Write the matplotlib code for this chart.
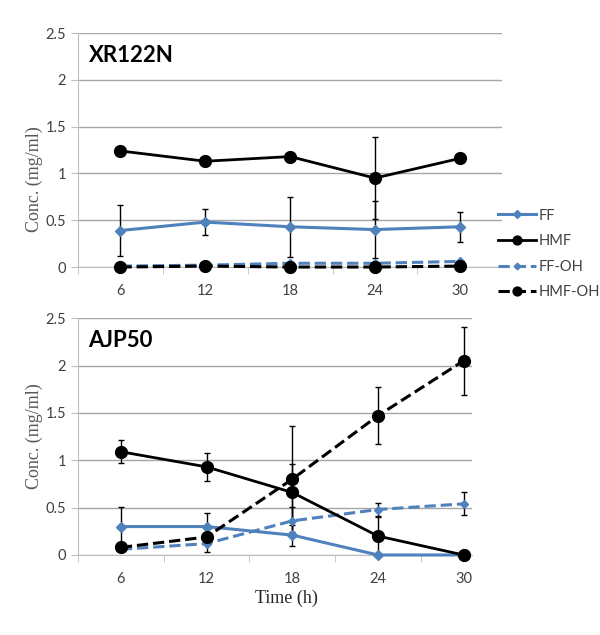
import matplotlib.pyplot as plt
import numpy as np

times = ['6', '12', '18', '24', '30']

# XR122N (top panel)
xr_ff = [0.39, 0.48, 0.43, 0.40, 0.43]
xr_ff_err = [0.27, 0.14, 0.32, 0.30, 0.16]
xr_hmf = [1.24, 1.13, 1.18, 0.95, 1.16]
xr_hmf_err = [0.0, 0.0, 0.0, 0.44, 0.0]
xr_ffoh = [0.01, 0.02, 0.04, 0.04, 0.06]
xr_ffoh_err = [0.0, 0.0, 0.0, 0.0, 0.0]
xr_hmfoh = [0.0, 0.01, 0.0, 0.0, 0.01]
xr_hmfoh_err = [0.0, 0.0, 0.0, 0.0, 0.0]

# AJP50 (bottom panel)
ajp_ff = [0.30, 0.30, 0.21, 0.0, 0.0]
ajp_ff_err = [0.21, 0.14, 0.11, 0.0, 0.0]
ajp_hmf = [1.09, 0.93, 0.66, 0.20, 0.0]
ajp_hmf_err = [0.12, 0.15, 0.30, 0.20, 0.0]
ajp_ffoh = [0.06, 0.12, 0.36, 0.48, 0.54]
ajp_ffoh_err = [0.02, 0.09, 0.15, 0.07, 0.12]
ajp_hmfoh = [0.08, 0.19, 0.80, 1.47, 2.05]
ajp_hmfoh_err = [0.0, 0.0, 0.56, 0.30, 0.36]

blue = '#4F81BD'
x = np.arange(1, len(times) + 1)

fig = plt.figure(figsize=(6, 6.35), dpi=100)
ax1 = fig.add_axes([0.13, 0.5795, 0.707, 0.3685])
ax2 = fig.add_axes([0.13, 0.126, 0.657, 0.373])


def draw(ax, ff, ffe, hmf, hmfe, ffoh, ffohe, hmfoh, hmfohe, title, xmax):
    # error bars first (black), then lines + markers
    for vals, errs in [(ff, ffe), (hmf, hmfe), (ffoh, ffohe), (hmfoh, hmfohe)]:
        ax.errorbar(x, vals, yerr=errs, fmt='none', ecolor='black',
                    elinewidth=1, capsize=2.5, zorder=2)
    ax.plot(x, ff, color=blue, lw=2.2, marker='D', ms=5.5, label='FF', zorder=3)
    ax.plot(x, hmf, color='black', lw=2, marker='o', ms=8.5, label='HMF',
            zorder=4)
    ax.plot(x, ffoh, color=blue, lw=2.2, ls='--', marker='D', ms=4.5,
            label='FF-OH', zorder=3)
    ax.plot(x, hmfoh, color='black', lw=2.2, ls='--', marker='o', ms=8.5,
            label='HMF-OH', zorder=4)
    ax.set_xlim(0.5, xmax)
    ax.set_ylim(0, 2.5)
    ax.set_yticks(np.arange(0, 2.51, 0.5))
    ax.set_yticklabels(['0', '0.5', '1', '1.5', '2', '2.5'])
    ax.set_xticks(x)
    ax.set_xticklabels(times)
    ax.set_xticks(np.arange(0.5, xmax, 1), minor=True)
    ax.tick_params(axis='x', which='major', length=0, pad=12,
                   labelsize=10.5, labelcolor='#404040')
    ax.tick_params(axis='x', which='minor', length=5, color='#bfbfbf')
    ax.tick_params(axis='y', length=5, color='#bfbfbf', labelsize=10.5,
                   labelcolor='#404040')
    for lab in ax.get_xticklabels() + ax.get_yticklabels():
        lab.set_family('Lato')
    ax.grid(axis='y', color='#a6a6a6', lw=1)
    ax.set_axisbelow(True)
    for s in ['top', 'right']:
        ax.spines[s].set_visible(False)
    ax.spines['left'].set_color('#bfbfbf')
    ax.spines['bottom'].set_color('#bfbfbf')
    ax.set_ylabel('Conc. (mg/ml)', family='Liberation Serif', fontsize=13,
                  color='#595959')
    ax.text(0.025, 0.905, title, transform=ax.transAxes, fontsize=16,
            family='Lato', fontweight='bold', va='center', ha='left')
    for e in ax.lines:
        e.set_clip_on(False)


draw(ax1, xr_ff, xr_ff_err, xr_hmf, xr_hmf_err, xr_ffoh, xr_ffoh_err,
     xr_hmfoh, xr_hmfoh_err, 'XR122N', 5.5)
draw(ax2, ajp_ff, ajp_ff_err, ajp_hmf, ajp_hmf_err, ajp_ffoh, ajp_ffoh_err,
     ajp_hmfoh, ajp_hmfoh_err, 'AJP50', 5.1)
ax1.yaxis.set_label_coords(-0.083, 0.376)
ax2.yaxis.set_label_coords(-0.089, 0.5)
ax2.set_xlabel('Time (h)', family='Liberation Serif', fontsize=13,
               color='#262626')
ax2.xaxis.set_label_coords(0.53, -0.145)

h, l = ax1.get_legend_handles_labels()
leg = fig.legend(h, l, loc='center left', bbox_to_anchor=(0.808, 0.6), frameon=False,
                 handlelength=2.6, labelspacing=0.8,
                 handletextpad=0.2, markerscale=0.75, labelcolor='#404040',
                 prop={'family': 'Lato', 'size': 10.5})

plt.savefig('out.png', dpi=100)
